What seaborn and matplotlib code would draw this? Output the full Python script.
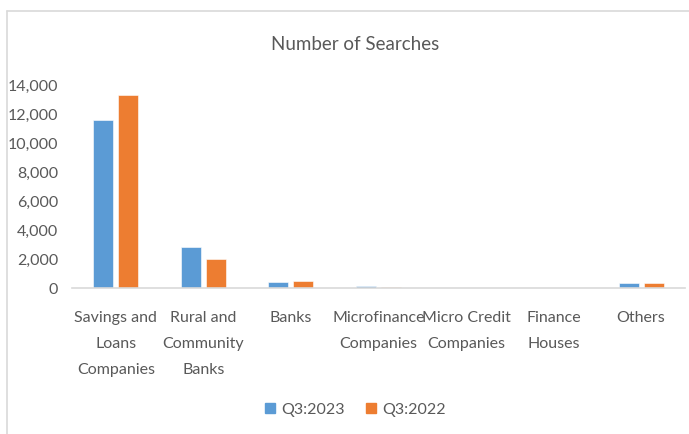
import matplotlib
matplotlib.use("Agg")
import matplotlib.pyplot as plt
from matplotlib import font_manager
from matplotlib.lines import Line2D
import seaborn as sns
import pandas as pd

categories = [
    "Savings and\nLoans\nCompanies",
    "Rural and\nCommunity\nBanks",
    "Banks",
    "Microfinance\nCompanies",
    "Micro Credit\nCompanies",
    "Finance\nHouses",
    "Others",
]
q3_2023 = [11500, 2800, 390, 80, 0, 0, 310]
q3_2022 = [13250, 2000, 460, 70, 0, 0, 300]
series_names = ["Q3:2023", "Q3:2022"]
y_ticks = [0, 2000, 4000, 6000, 8000, 10000, 12000, 14000]

df = pd.DataFrame({
    "category": categories * 2,
    "searches": q3_2023 + q3_2022,
    "period": [series_names[0]] * len(categories) + [series_names[1]] * len(categories),
})

sns.set_theme(style="white")
names = {f.name for f in font_manager.fontManager.ttflist}
family = next((n for n in ["Liberation Sans Narrow", "Lato", "Open Sans"] if n in names),
              "DejaVu Sans")
plt.rcParams["font.family"] = [family, "DejaVu Sans"]
text_color = "#595959"
blue, orange = "#5B9BD5", "#ED7D31"

fig = plt.figure(figsize=(6.89, 4.35), dpi=100)
ax = fig.add_axes([0.1045, 0.3365, 0.8895, 0.468])

sns.barplot(
    data=df, x="category", y="searches", hue="period",
    hue_order=series_names, palette=[blue, orange], saturation=1,
    width=0.57, gap=0.2, ax=ax, edgecolor="white", linewidth=0.4,
    legend=False,
)

ax.set_xlim(-0.5, len(categories) - 0.5)
ax.set_ylim(0, 14000)
ax.set_yticks(y_ticks)
ax.set_yticklabels([f"{v:,}" for v in y_ticks])
ax.set_xlabel("")
ax.set_ylabel("")
for side in ["top", "right", "left"]:
    ax.spines[side].set_visible(False)
ax.spines["bottom"].set_color("#D9D9D9")
ax.spines["bottom"].set_linewidth(1.2)
ax.tick_params(axis="both", length=0, colors=text_color, labelsize=11.5)
ax.tick_params(axis="x", pad=16)
ax.tick_params(axis="y", pad=10)
for lbl in ax.get_xticklabels():
    lbl.set_linespacing(2.1)

fig.text(0.515, 0.897, "Number of Searches", ha="center", va="center",
         fontsize=13.5, color=text_color)

handles = [Line2D([], [], marker="s", linestyle="none", markersize=7,
                  markerfacecolor=c, markeredgecolor=c)
           for c in [blue, orange]]
fig.legend(handles, series_names, loc="center", bbox_to_anchor=(0.515, 0.057),
           ncol=2, frameon=False, fontsize=11.5, handletextpad=0.35,
           columnspacing=1.2, labelcolor=text_color, handlelength=0.8)

# chart-area border (top and left edges)
fig.add_artist(Line2D([0.0101, 1.0], [0.972, 0.972], color="#D9D9D9", lw=1.2))
fig.add_artist(Line2D([0.0101, 0.0101], [0.0, 0.972], color="#D9D9D9", lw=1.2))

fig.savefig("out.png", dpi=100, facecolor="white")
